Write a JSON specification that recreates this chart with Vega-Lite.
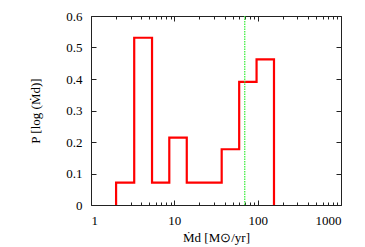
{
  "$schema": "https://vega.github.io/schema/vega-lite/v6.json",
  "width": 250,
  "height": 189,
  "autosize": "none",
  "padding": {"left": 91, "top": 16, "right": 24, "bottom": 42},
  "config": {
    "view": {"stroke": "#222", "strokeWidth": 1},
    "font": "Liberation Serif, Times New Roman, serif",
    "axis": {"domain": false, "grid": false, "labelFont": "Liberation Serif, Times New Roman, serif", "titleFont": "Liberation Serif, Times New Roman, serif", "labelFontSize": 13, "titleFontSize": 13, "titleFontWeight": "normal", "labelColor": "#000", "titleColor": "#000", "tickColor": "#222", "tickWidth": 1}
  },
  "datasets": {
    "hist": [
      {"Md": 2.0, "P": 0, "i": 0},
      {"Md": 2.0, "P": 0.071, "i": 1},
      {"Md": 3.3, "P": 0.531, "i": 2},
      {"Md": 5.4, "P": 0.071, "i": 3},
      {"Md": 8.7, "P": 0.214, "i": 4},
      {"Md": 14.1, "P": 0.071, "i": 5},
      {"Md": 37, "P": 0.177, "i": 6},
      {"Md": 60, "P": 0.391, "i": 7},
      {"Md": 97, "P": 0.462, "i": 8},
      {"Md": 157, "P": 0, "i": 9}
    ],
    "mark": [{"Md": 70}]
  },
  "layer": [
    {
      "data": {"name": "hist"},
      "mark": {"type": "line", "interpolate": "step-after", "color": "#ff0000", "strokeWidth": 2.2},
      "encoding": {
        "x": {"field": "Md", "type": "quantitative", "scale": {"type": "log", "domain": [1, 1000], "nice": false},
          "axis": {"orient": "bottom", "values": [1, 10, 100, 1000], "format": "d", "tickSize": -5, "labelPadding": 14, "title": "Ṁd [M⊙/yr]", "titlePadding": 4}},
        "y": {"field": "P", "type": "quantitative", "scale": {"domain": [0, 0.6], "nice": false, "zero": true},
          "axis": {"orient": "left", "values": [0, 0.1, 0.2, 0.3, 0.4, 0.5, 0.6], "format": ".1~f", "tickSize": -5, "labelPadding": 14, "title": "P [log (Ṁd)]", "titlePadding": 23}},
        "order": {"field": "i", "type": "quantitative"}
      }
    },
    {
      "data": {"name": "mark"},
      "mark": {"type": "rule", "color": "#33ee33", "strokeWidth": 1.2, "strokeDash": [1.5, 1]},
      "encoding": {
        "x": {"field": "Md", "type": "quantitative",
          "axis": {"orient": "top", "values": [1, 10, 100, 1000], "labels": false, "tickSize": -5, "title": null}},
        "y": {"datum": 0, "type": "quantitative", "axis": {"orient": "right", "values": [0, 0.1, 0.2, 0.3, 0.4, 0.5, 0.6], "labels": false, "tickSize": -5, "title": null}},
        "y2": {"datum": 0.6}
      }
    },
    {
      "data": {"name": "mark"},
      "mark": {"type": "rule", "opacity": 0},
      "encoding": {
        "x": {"field": "Md", "type": "quantitative",
          "axis": {"orient": "bottom", "values": [2,3,4,5,6,7,8,9,20,30,40,50,60,70,80,90,200,300,400,500,600,700,800,900], "labels": false, "tickSize": -3, "title": null}}
      }
    },
    {
      "data": {"name": "mark"},
      "mark": {"type": "rule", "opacity": 0},
      "encoding": {
        "x": {"field": "Md", "type": "quantitative",
          "axis": {"orient": "top", "values": [2,3,4,5,6,7,8,9,20,30,40,50,60,70,80,90,200,300,400,500,600,700,800,900], "labels": false, "tickSize": -3, "title": null}}
      }
    }
  ],
  "resolve": {"axis": {"x": "independent", "y": "independent"}}
}
